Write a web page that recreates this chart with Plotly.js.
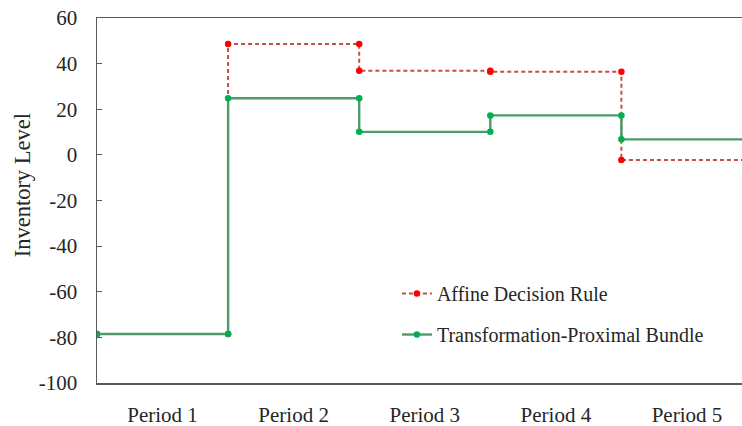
<!DOCTYPE html>
<html>
<head>
<meta charset="utf-8">
<script src="https://cdn.plot.ly/plotly-3.0.1.min.js"></script>
<style>html,body{margin:0;padding:0;background:#fff;}#chart{width:742px;height:426px;}</style>
</head>
<body>
<div id="chart"></div>
<script>
// Step vertices (period boundaries on x, inventory level on y)
const affineX = [0, 1, 1, 2, 2, 3, 3, 4, 4, 5];
const affineY = [-78.5, -78.5, 48.6, 48.6, 36.9, 36.9, 36.4, 36.4, -2.3, -2.3];
const tpbX = [0, 1, 1, 2, 2, 3, 3, 4, 4, 5];
const tpbY = [-78.5, -78.5, 24.8, 24.8, 10.1, 10.1, 17.3, 17.3, 6.8, 6.8];
const periodPos = [0.5, 1.5, 2.5, 3.5, 4.5];
const periodLabels = ["Period 1", "Period 2", "Period 3", "Period 4", "Period 5"];
const yTicks = [-100, -80, -60, -40, -20, 0, 20, 40, 60];
const yTickText = ["-100", "-80", "-60", "-40", "-20", "0", "20", "40", "60"];
const yTitle = "Inventory Level";

const serif = "'Liberation Serif', 'Times New Roman', serif";

const traces = [
  {
    x: affineX, y: affineY, type: "scatter", mode: "lines+markers",
    name: "Affine Decision Rule", legendgroup: "a",
    line: {color: "#c0504d", width: 2, dash: "4px,3px"},
    marker: {color: "#ff0000", size: 6.5}
  },
  {
    x: tpbX, y: tpbY, type: "scatter", mode: "lines+markers",
    name: "Transformation-Proximal Bundle", legendgroup: "b",
    line: {color: "#4e9a6a", width: 2.4},
    marker: {color: "#00b050", size: 6.5}
  }
];

const layout = {
  width: 742, height: 426,
  margin: {l: 97, r: 0, t: 18, b: 43},
  paper_bgcolor: "#fff", plot_bgcolor: "#fff",
  font: {family: serif, color: "#262626", size: 19},
  showlegend: true,
  legend: {
    x: 0.465, y: 0.189, xanchor: "left", yanchor: "middle",
    traceorder: "grouped", tracegroupgap: 12,
    font: {family: serif, size: 20, color: "#262626"},
    bgcolor: "rgba(0,0,0,0)"
  },
  xaxis: {
    range: [0, 4.92],
    tickvals: periodPos, ticktext: periodLabels,
    ticks: "", showgrid: false, zeroline: false,
    showline: true, mirror: true, linecolor: "#595959", linewidth: 1.5,
    ticklabelstandoff: 12,
    tickfont: {family: serif, size: 21, color: "#262626"}
  },
  yaxis: {
    range: [-100, 60],
    tickvals: yTicks, ticktext: yTickText,
    ticks: "inside", ticklen: 5, tickcolor: "#595959",
    showgrid: false, zeroline: false,
    showline: true, linecolor: "#595959", linewidth: 1.5,
    ticklabelstandoff: 14,
    tickfont: {family: serif, size: 21, color: "#262626"}
  },
  annotations: [{
    text: yTitle, xref: "paper", yref: "paper",
    x: -0.116, y: 0.542, xanchor: "center", yanchor: "middle",
    textangle: -90, showarrow: false,
    font: {family: serif, size: 22.5, color: "#262626"}
  }]
};

Plotly.newPlot("chart", traces, layout, {displayModeBar: false, staticPlot: true});
</script>
</body>
</html>
